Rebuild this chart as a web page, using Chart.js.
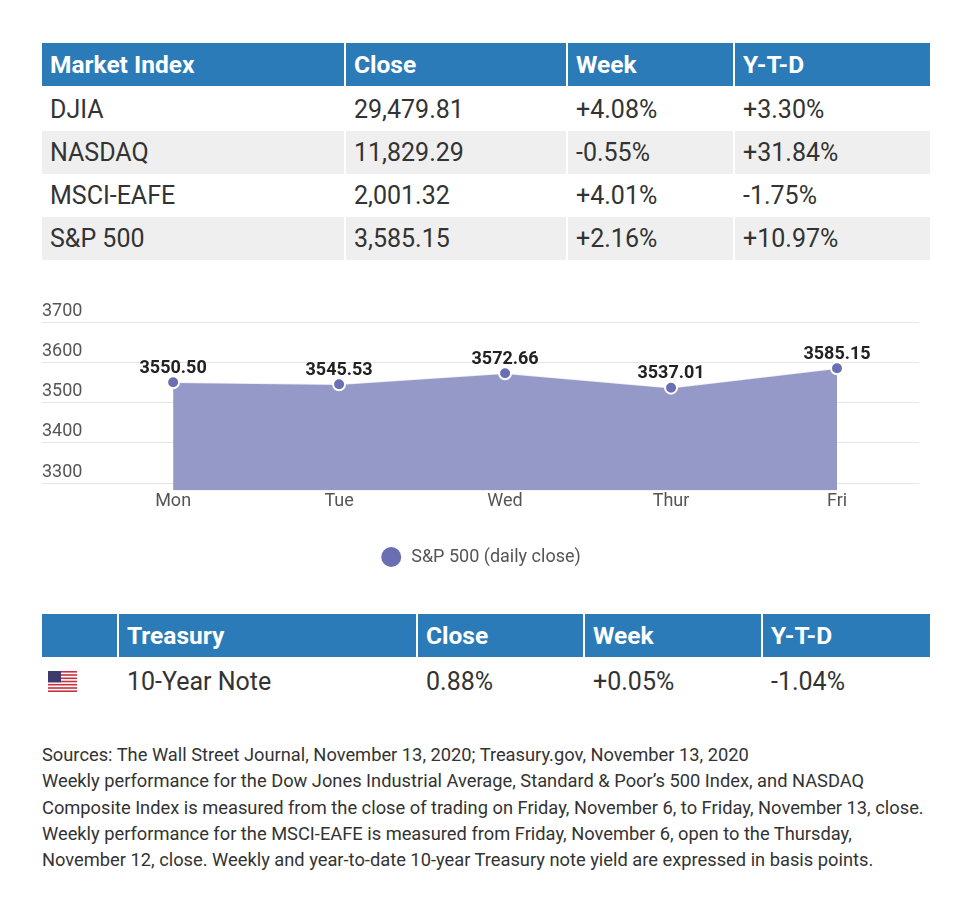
<!DOCTYPE html>
<html>
<head>
    <title>Weekly Market Snapshot</title>
    <style>
        body {
            margin: 0;
            font-family: Roboto, Arial, sans-serif;
            background: #fff;
            color: #333;
        }
        table {
            position: absolute;
            left: 42px;
            width: 888px;
            border-collapse: collapse;
            table-layout: fixed;
            font-size: 25px;
        }
        th, td {
            text-align: left;
            padding: 0 8px;
            height: 43px;
            border-left: 2px solid #fff;
            white-space: nowrap;
        }
        th:first-child, td:first-child { border-left: none; }
        th {
            background: #2b7bb8;
            color: #fff;
            font-size: 24.5px;
            font-weight: 700;
            border-bottom: 2px solid #fff;
        }
        tr.gray td { background: #efefef; }
        #markets { top: 43px; }
        #treasury { top: 614px; }
        #treasury td { height: 44px; }
        .chart-container {
            position: absolute;
            left: 42px;
            top: 290px;
            width: 877px;
            height: 286px;
        }
        .notes {
            position: absolute;
            left: 42px;
            top: 742px;
            font-size: 18.3px;
            line-height: 26.3px;
            color: #333;
            white-space: nowrap;
        }
    </style>
    <script src="https://cdn.jsdelivr.net/npm/chart.js"></script>
</head>
<body>
    <table id="markets">
        <colgroup>
            <col style="width:303px"><col style="width:222px"><col style="width:167px"><col style="width:196px">
        </colgroup>
        <thead>
            <tr><th>Market Index</th><th>Close</th><th>Week</th><th>Y-T-D</th></tr>
        </thead>
        <tbody id="marketRows"></tbody>
    </table>

    <div class="chart-container">
        <canvas id="spChart"></canvas>
    </div>

    <table id="treasury">
        <colgroup>
            <col style="width:76px"><col style="width:299px"><col style="width:167px"><col style="width:178px"><col style="width:168px">
        </colgroup>
        <thead>
            <tr><th></th><th>Treasury</th><th>Close</th><th>Week</th><th>Y-T-D</th></tr>
        </thead>
        <tbody>
            <tr>
                <td style="padding:0 6px">
                    <svg width="29" height="21" viewBox="0 0 29 21" style="display:block">
                        <rect width="29" height="21" fill="#fff"/>
                        <g fill="#c8313e">
                            <rect y="0" width="29" height="1.6"/>
                            <rect y="3.2" width="29" height="1.6"/>
                            <rect y="6.5" width="29" height="1.6"/>
                            <rect y="9.7" width="29" height="1.6"/>
                            <rect y="12.9" width="29" height="1.6"/>
                            <rect y="16.2" width="29" height="1.6"/>
                            <rect y="19.4" width="29" height="1.6"/>
                        </g>
                        <rect width="13" height="11.3" fill="#3c3b6e"/>
                    </svg>
                </td>
                <td>10-Year Note</td><td>0.88%</td><td>+0.05%</td><td>-1.04%</td>
            </tr>
        </tbody>
    </table>

    <div class="notes">
        Sources: The Wall Street Journal, November 13, 2020; Treasury.gov, November 13, 2020<br>
        Weekly performance for the Dow Jones Industrial Average, Standard &amp; Poor’s 500 Index, and NASDAQ<br>
        Composite Index is measured from the close of trading on Friday, November 6, to Friday, November 13, close.<br>
        Weekly performance for the MSCI-EAFE is measured from Friday, November 6, open to the Thursday,<br>
        November 12, close. Weekly and year-to-date 10-year Treasury note yield are expressed in basis points.
    </div>

    <script>
        // market table
        const indexNames = ['DJIA', 'NASDAQ', 'MSCI-EAFE', 'S&P 500'];
        const indexClose = ['29,479.81', '11,829.29', '2,001.32', '3,585.15'];
        const indexWeek = ['+4.08%', '-0.55%', '+4.01%', '+2.16%'];
        const indexYtd = ['+3.30%', '+31.84%', '-1.75%', '+10.97%'];

        // S&P 500 daily close
        const days = ['Mon', 'Tue', 'Wed', 'Thur', 'Fri'];
        const spClose = [3550.50, 3545.53, 3572.66, 3537.01, 3585.15];
        const yTicks = [3300, 3400, 3500, 3600, 3700];

        const tbody = document.getElementById('marketRows');
        indexNames.forEach((name, i) => {
            const tr = document.createElement('tr');
            if (i % 2 === 1) tr.className = 'gray';
            [name, indexClose[i], indexWeek[i], indexYtd[i]].forEach(v => {
                const td = document.createElement('td');
                td.textContent = v;
                tr.appendChild(td);
            });
            tbody.appendChild(tr);
        });

        const pointLabels = {
            id: 'pointLabels',
            afterDatasetsDraw(chart) {
                const ctx = chart.ctx;
                const meta = chart.getDatasetMeta(0);
                ctx.save();
                ctx.font = 'bold 18px Roboto';
                ctx.fillStyle = '#222';
                ctx.textAlign = 'center';
                ctx.textBaseline = 'middle';
                meta.data.forEach((pt, i) => {
                    ctx.fillText(spClose[i].toFixed(2), pt.x, pt.y - 14);
                });
                ctx.restore();
            }
        };

        const ctx = document.getElementById('spChart').getContext('2d');
        const chart = new Chart(ctx, {
            type: 'line',
            data: {
                datasets: [{
                    label: 'S&P 500 (daily close)',
                    data: spClose.map((v, i) => ({ x: i, y: v })),
                    fill: 'start',
                    backgroundColor: '#9599c7',
                    borderColor: 'rgba(255,255,255,0.8)',
                    borderWidth: 1.5,
                    tension: 0,
                    pointRadius: 6,
                    pointHoverRadius: 6,
                    pointBackgroundColor: '#6a6fb4',
                    pointBorderColor: '#fff',
                    pointBorderWidth: 2
                }]
            },
            options: {
                responsive: true,
                maintainAspectRatio: false,
                animation: false,
                layout: { autoPadding: false, padding: { top: 32, left: 0, right: 0, bottom: 0 } },
                plugins: {
                    tooltip: { enabled: false },
                    legend: {
                        position: 'bottom',
                        labels: {
                            usePointStyle: true,
                            pointStyle: 'circle',
                            pointStyleWidth: 22,
                            boxHeight: 15.6,
                            padding: 36,
                            color: '#555',
                            font: { family: 'Roboto', size: 18 }
                        }
                    }
                },
                scales: {
                    x: {
                        type: 'linear',
                        min: -0.79,
                        max: 4.494,
                        afterBuildTicks: axis => { axis.ticks = days.map((d, i) => ({ value: i })); },
                        grid: { display: false, drawTicks: false },
                        border: { display: false },
                        ticks: {
                            padding: 0,
                            color: '#555',
                            font: { family: 'Roboto', size: 18 },
                            callback: v => days[v]
                        }
                    },
                    y: {
                        min: 3282,
                        max: 3700,
                        afterBuildTicks: axis => { axis.ticks = yTicks.map(v => ({ value: v })); },
                        grid: { color: '#e6e6e6', drawTicks: false },
                        border: { display: false },
                        ticks: {
                            mirror: true,
                            padding: 0,
                            labelOffset: -11,
                            color: '#555',
                            font: { family: 'Roboto', size: 18 },
                            callback: v => String(v)
                        }
                    }
                }
            },
            plugins: [pointLabels]
        });
    </script>
</body>
</html>
